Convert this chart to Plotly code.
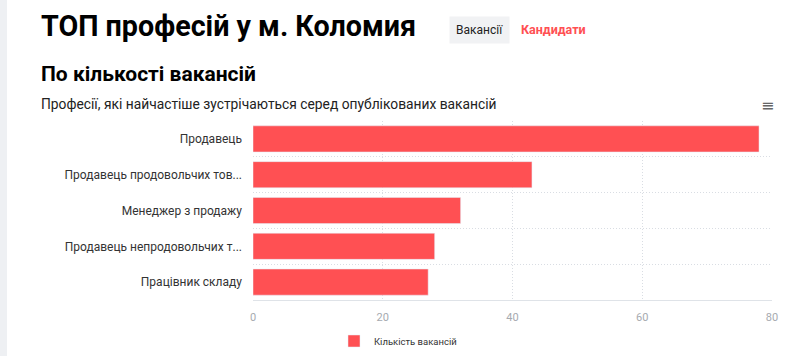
import plotly.graph_objects as go

categories = ["Продавець", "Продавець продовольчих тов...", "Менеджер з продажу",
              "Продавець непродовольчих т...", "Працівник складу"]
values = [78, 43, 32, 28, 27]
series_name = "Кількість вакансій"
x_ticks = [0, 20, 40, 60, 80]

BAR = "#FF5053"
GRID = "#d9dde3"
L, R, T, B = 253, 28, 121, 56
W, H = 800, 356
PW, PH = W - L - R, H - T - B

def px(x):
    return (x - L) / PW

def py(y):
    return (H - B - y) / PH

positions = list(range(len(categories)))

fig = go.Figure()
fig.add_trace(go.Bar(
    x=values, y=positions, orientation="h", name=series_name,
    marker=dict(color=BAR), showlegend=True,
    hovertemplate="%{text}: %{x}<extra></extra>", text=categories, textposition="none",
))

fig.update_layout(
    width=W, height=H, margin=dict(l=L, r=R, t=T, b=B, autoexpand=False),
    paper_bgcolor="white", plot_bgcolor="white",
    bargap=0.27,
    font=dict(family="Roboto, Arial, sans-serif", size=12, color="#333"),
    xaxis=dict(range=[0, 80], tickvals=x_ticks, showgrid=True, gridcolor=GRID,
               griddash="1px,2px", gridwidth=1, zeroline=False, showline=True,
               linecolor="#dfe3e8", linewidth=1, tickfont=dict(size=11, color="#a6aab0"),
               ticks="", ticklabelstandoff=7, fixedrange=True),
    yaxis=dict(range=[len(categories) - 0.5, -0.5], tickvals=positions, ticktext=categories,
               showgrid=False, zeroline=False, showline=False, ticks="",
               tickfont=dict(size=12, color="#333"), ticklabelstandoff=10,
               minor=dict(tick0=0.5, dtick=1, showgrid=True, gridcolor=GRID,
                          griddash="1px,2px", gridwidth=1),
               fixedrange=True),
    legend=dict(orientation="h", x=px(398), xanchor="center",
                y=py(341), yanchor="middle",
                font=dict(size=9.5, color="#333"), itemwidth=30),
)

# left page strip
fig.add_shape(type="rect", xref="paper", yref="paper", x0=px(0), x1=px(7), y0=py(H), y1=py(0),
              fillcolor="#eef0f3", line=dict(width=0), layer="below")

fig.add_annotation(text="<b>ТОП професій у м. Коломия</b>", xref="paper", yref="paper",
                   x=px(39), y=py(26), xanchor="left", yanchor="middle", showarrow=False,
                   font=dict(family="Roboto, sans-serif", size=28.7, color="#000"))
fig.add_annotation(text="Вакансії", xref="paper", yref="paper",
                   x=px(479), y=py(30), xanchor="center", yanchor="middle", showarrow=False,
                   bgcolor="#f1f2f4", borderpad=6,
                   font=dict(family="Roboto, sans-serif", size=12, color="#222"))
fig.add_annotation(text="<b>Кандидати</b>", xref="paper", yref="paper",
                   x=px(519), y=py(29), xanchor="left", yanchor="middle", showarrow=False,
                   font=dict(family="Roboto, sans-serif", size=12.5, color="#FF5053"))
fig.add_annotation(text="<b>По кількості вакансій</b>", xref="paper", yref="paper",
                   x=px(39), y=py(74), xanchor="left", yanchor="middle", showarrow=False,
                   font=dict(family="Roboto, sans-serif", size=21, color="#000"))
fig.add_annotation(text="Професії, які найчастіше зустрічаються серед опублікованих вакансій",
                   xref="paper", yref="paper",
                   x=px(39), y=py(104), xanchor="left", yanchor="middle", showarrow=False,
                   font=dict(family="Roboto, sans-serif", size=13.8, color="#222"))
fig.add_annotation(text="≡", xref="paper", yref="paper",
                   x=px(767), y=py(105), xanchor="center", yanchor="middle", showarrow=False,
                   font=dict(family="DejaVu Sans, sans-serif", size=16, color="#666"))

fig.write_html("out.html", config={"displayModeBar": False},
               post_script="document.body.style.margin='0';")
